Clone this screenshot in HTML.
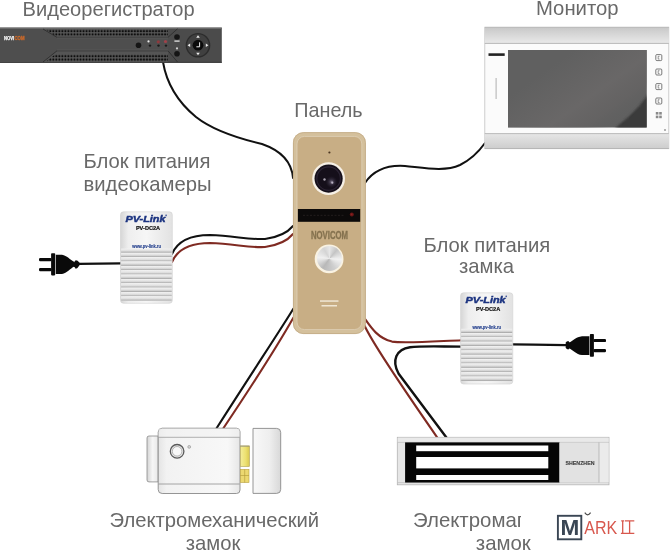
<!DOCTYPE html>
<html><head><meta charset="utf-8">
<style>
html,body{margin:0;padding:0;background:#fff;width:671px;height:550px;overflow:hidden;position:relative;}
svg{display:block;}
text{font-family:"Liberation Sans",sans-serif;}
</style></head><body>
<svg width="671" height="550" viewBox="0 0 671 550" style="position:absolute;left:0;top:0;"><g opacity="0.998">
<defs>
  <pattern id="vent" x="0" y="0" width="3" height="3.3" patternUnits="userSpaceOnUse">
    <rect width="3" height="3.3" fill="#3e3e3e"/>
    <rect x="0.6" y="0.6" width="1.6" height="1.8" fill="#1c1c1c"/>
  </pattern>
  <pattern id="ventdots" x="0.5" y="29.6" width="3.02" height="3.25" patternUnits="userSpaceOnUse">
    <circle cx="1.5" cy="1.6" r="1.1" fill="#0e0e0e"/>
  </pattern>
  <pattern id="ventdots2" x="0.5" y="54.6" width="3.02" height="3.35" patternUnits="userSpaceOnUse">
    <circle cx="1.5" cy="1.6" r="1.1" fill="#0e0e0e"/>
  </pattern>
  <linearGradient id="dvrg" x1="0" y1="0" x2="0" y2="1">
    <stop offset="0" stop-color="#5a5a5a"/>
    <stop offset="0.08" stop-color="#474747"/>
    <stop offset="1" stop-color="#333"/>
  </linearGradient>
  <linearGradient id="bandtop" x1="0" y1="0" x2="0" y2="1">
    <stop offset="0" stop-color="#c8c8c8"/>
    <stop offset="1" stop-color="#e9e9e9"/>
  </linearGradient>
  <linearGradient id="bandbot" x1="0" y1="0" x2="0" y2="1">
    <stop offset="0" stop-color="#e6e6e6"/>
    <stop offset="1" stop-color="#cdcdcd"/>
  </linearGradient>
  <linearGradient id="glare" gradientUnits="userSpaceOnUse" x1="560" y1="60" x2="610" y2="130">
    <stop offset="0" stop-color="#6a6868" stop-opacity="0"/>
    <stop offset="0.55" stop-color="#6a6868" stop-opacity="0.9"/>
    <stop offset="0.8" stop-color="#666464" stop-opacity="0.7"/>
    <stop offset="1" stop-color="#606060" stop-opacity="0"/>
  </linearGradient>
  <linearGradient id="darktri" x1="0" y1="0" x2="1" y2="1">
    <stop offset="0" stop-color="#555"/>
    <stop offset="0.5" stop-color="#3e3e3e"/>
    <stop offset="1" stop-color="#383838"/>
  </linearGradient>
  <linearGradient id="ribg" x1="0" y1="0" x2="0" y2="1">
    <stop offset="0" stop-color="#f2f2f2"/>
    <stop offset="0.5" stop-color="#dedede"/>
    <stop offset="0.72" stop-color="#c4c4c4"/>
    <stop offset="0.85" stop-color="#aeaeae"/>
    <stop offset="1" stop-color="#e6e6e6"/>
  </linearGradient>
  <linearGradient id="extg" x1="0" y1="0" x2="1" y2="0">
    <stop offset="0" stop-color="#d4d4d4"/>
    <stop offset="0.5" stop-color="#f6f6f6"/>
    <stop offset="1" stop-color="#e8e8e8"/>
  </linearGradient>
  <linearGradient id="bodyg" x1="0" y1="0" x2="1" y2="0">
    <stop offset="0" stop-color="#e4e4e4"/>
    <stop offset="0.1" stop-color="#f2f2f2"/>
    <stop offset="0.85" stop-color="#f8f8f8"/>
    <stop offset="1" stop-color="#e6e6e6"/>
  </linearGradient>
  <linearGradient id="strikeg" x1="0" y1="0" x2="1" y2="0">
    <stop offset="0" stop-color="#f8f8f8"/>
    <stop offset="0.6" stop-color="#eeeeee"/>
    <stop offset="1" stop-color="#d8d8d8"/>
  </linearGradient>
  <linearGradient id="latchg" x1="0" y1="0" x2="1" y2="0">
    <stop offset="0" stop-color="#f4ee9a"/>
    <stop offset="0.6" stop-color="#ece070"/>
    <stop offset="1" stop-color="#d8c850"/>
  </linearGradient>
  <radialGradient id="lensglow" cx="0.5" cy="0.5" r="0.5">
    <stop offset="0" stop-color="#8a8296" stop-opacity="0.9"/>
    <stop offset="0.4" stop-color="#4a4256" stop-opacity="0.6"/>
    <stop offset="1" stop-color="#2a2232" stop-opacity="0"/>
  </radialGradient>
  <filter id="blur1" x="-20%" y="-20%" width="140%" height="140%"><feGaussianBlur stdDeviation="1.2"/></filter>
  <clipPath id="scrclip"><rect x="508" y="50" width="138.7" height="77.5"/></clipPath>
  <linearGradient id="bandg" x1="0" y1="0" x2="0" y2="1">
    <stop offset="0" stop-color="#d8d8d8"/>
    <stop offset="0.5" stop-color="#f2f2f2"/>
    <stop offset="1" stop-color="#dcdcdc"/>
  </linearGradient>
  <linearGradient id="screeng" x1="0" y1="0" x2="1" y2="1">
    <stop offset="0" stop-color="#555"/>
    <stop offset="0.6" stop-color="#5e5e5e"/>
    <stop offset="0.75" stop-color="#444"/>
    <stop offset="1" stop-color="#3a3a3a"/>
  </linearGradient>
  <linearGradient id="psug" x1="0" y1="0" x2="1" y2="0">
    <stop offset="0" stop-color="#d6d6d6"/>
    <stop offset="0.15" stop-color="#eeeeee"/>
    <stop offset="0.5" stop-color="#f6f6f6"/>
    <stop offset="1" stop-color="#e2e2e2"/>
  </linearGradient>
  <radialGradient id="lensg" cx="0.5" cy="0.5" r="0.5">
    <stop offset="0" stop-color="#3a3344"/>
    <stop offset="0.7" stop-color="#1f1a26"/>
    <stop offset="1" stop-color="#0e0c12"/>
  </radialGradient>
  <linearGradient id="btng" x1="0" y1="0" x2="1" y2="1">
    <stop offset="0" stop-color="#c8c8c8"/>
    <stop offset="0.3" stop-color="#f4f4f4"/>
    <stop offset="0.5" stop-color="#bdbdbd"/>
    <stop offset="0.7" stop-color="#f0f0f0"/>
    <stop offset="1" stop-color="#b5b5b5"/>
  </linearGradient>
</defs>

<!-- ============ TEXT LABELS ============ -->
<g fill="#696969">
  <text x="22.6" y="15.6" font-size="20.1">Видеорегистратор</text>
  <text x="536" y="14.8" font-size="20.3">Монитор</text>
  <text x="294.3" y="117" font-size="19.8">Панель</text>
  <text x="83.5" y="168" font-size="20.25">Блок питания</text>
  <text x="83.5" y="190.7" font-size="20.25">видеокамеры</text>
  <text x="423.4" y="252" font-size="20.25">Блок питания</text>
  <text x="459" y="273.3" font-size="20.25">замка</text>
  <text x="109.5" y="526.6" font-size="20.25">Электромеханический</text>
  <text x="185.8" y="549.6" font-size="20.25">замок</text>
  <text x="413" y="526.5" font-size="20.4">Электромагнитный</text>
  <text x="475.8" y="550.2" font-size="20.4">замок</text>
</g>

<!-- ============ WIRES ============ -->
<g fill="none" stroke-linecap="round">
  <!-- DVR to panel -->
  <path d="M163,62 C167,86 179,103 196,117 C215,132 245,140 262,144 C285,152 292,165 293,178" stroke="#111" stroke-width="2"/>
  <!-- monitor to panel -->
  <path d="M365,183 C375,168 390,165 405,166 C425,168 445,172 460,165 C472,159 480,150 485,143" stroke="#111" stroke-width="2"/>
  <!-- left PSU to panel -->
  <path d="M172,254 C178,240 192,235 210,235 C235,236 250,240 265,239 C280,237 288,232 293,226" stroke="#111" stroke-width="2"/>
  <path d="M172,262 C178,248 192,243 210,243 C235,244 250,248 265,247 C280,245 288,240 293,234" stroke="#7f2a22" stroke-width="2.1"/>
  <!-- panel to electromech lock -->
  <path d="M293.5,308.5 C281,329 255,368 216.4,428.5" stroke="#111" stroke-width="2.1"/>
  <path d="M293.5,317.5 C283,336 261,372 223.2,428.5" stroke="#7f2a22" stroke-width="2.1"/>
  <!-- panel to right PSU -->
  <path d="M364,317.5 C370,326 377,338 392,341.6 C405,343.6 440,341 462,340.2" stroke="#7f2a22" stroke-width="2.1"/>
  <!-- panel to mag lock -->
  <path d="M364.5,325.5 C371,340 398,381 437.5,437.8" stroke="#7f2a22" stroke-width="2.1"/>
  <!-- right PSU black to mag lock -->
  <path d="M462,346.6 C440,346.6 422,345.8 410,347.2 C396,349 391.5,361 398.5,373.5 L446.6,437.8" stroke="#111" stroke-width="2.4"/>
  <!-- plug cables -->
  <path d="M79,263.8 C95,263.6 110,263.4 121,263.4" stroke="#111" stroke-width="2.2"/>
  <path d="M512.5,344.3 C530,344.5 550,345 566,345.1" stroke="#111" stroke-width="2.2"/>
</g>

<!-- ============ DVR ============ -->
<g>
  <rect x="0" y="27.6" width="221.8" height="35.2" fill="#4b4b4b"/>
  <rect x="0" y="27.6" width="221.8" height="1.4" fill="#6a6a6a"/>
  <rect x="0" y="61.8" width="221.8" height="1" fill="#3a3a3a"/>
  <!-- left face -->
  <polygon points="0,29 43,29 57,37.5 57,50.5 43,62 0,62" fill="#4e4e4e"/>
  <!-- vents -->
  <polygon points="43,29 168,29 168,37.3 57,37.3" fill="#555"/>
  <polygon points="57,50.8 168,50.8 168,62 43,62" fill="#555"/>
  <g fill="url(#ventdots)">
    <polygon points="46,29.5 168,29.5 168,36 55,36"/>
    <polygon points="55,54.6 168,54.6 168,61.3 46,61.3" fill="url(#ventdots2)"/>
  </g>
  <rect x="57" y="37.3" width="111" height="13.5" fill="#4e4e4e"/>
  <path d="M43,29 L57,37.3 L168,37.3 L177.5,28.8" stroke="#2e2e2e" stroke-width="0.9" fill="none"/>
  <path d="M57,37.9 L168,37.9" stroke="#6a6a6a" stroke-width="0.5" fill="none"/>
  <path d="M43,62 L57,50.8 L168,50.8 L177.5,62" stroke="#2e2e2e" stroke-width="0.9" fill="none"/>
  <path d="M57,50.2 L168,50.2" stroke="#6a6a6a" stroke-width="0.5" fill="none"/>
  <!-- logo -->
  <text x="4" y="40.3" font-size="5.4" font-weight="bold" fill="#f4f4f4" stroke="#f4f4f4" stroke-width="0.25" textLength="10.3" lengthAdjust="spacingAndGlyphs">NOVI</text>
  <text x="14.5" y="40.3" font-size="5.2" font-weight="bold" fill="#d06a28" stroke="#d06a28" stroke-width="0.3" textLength="10" lengthAdjust="spacingAndGlyphs">COM</text>
  <!-- buttons -->
  <circle cx="138.5" cy="45.2" r="2.8" fill="#151515"/>
  <circle cx="148.5" cy="41.4" r="1.1" fill="#e8e8e8"/>
  <circle cx="150" cy="45.6" r="1.2" fill="#1a1a1a"/>
  <circle cx="158.3" cy="41.8" r="1.6" fill="#8e3a3e"/>
  <circle cx="158.5" cy="45.6" r="1.2" fill="#1a1a1a"/>
  <circle cx="165.5" cy="41.5" r="1.6" fill="#a0424a"/>
  <circle cx="166" cy="45.6" r="1.2" fill="#1a1a1a"/>
  <circle cx="177" cy="37" r="2.8" fill="#151515"/>
  <rect x="174.4" y="40.4" width="5.2" height="1.4" fill="#d8d8d8"/>
  <circle cx="177" cy="48.4" r="1.1" fill="#cfcfcf"/>
  <circle cx="177" cy="53.7" r="2.8" fill="#151515"/>
  <circle cx="198" cy="45.2" r="12.3" fill="#2c2c2c"/>
  <circle cx="198" cy="45.2" r="10.9" fill="#404040"/>
  <circle cx="198" cy="45.2" r="5.4" fill="#0a0a0a"/>
  <path d="M199.6,42.3 V46.8 H196.4" stroke="#f0f0f0" stroke-width="1" fill="none"/>
  <polygon points="198,35.2 196.2,37.8 199.8,37.8" fill="#eee"/>
  <polygon points="198,55.3 196.2,52.7 199.8,52.7" fill="#eee"/>
  <polygon points="187.6,45.2 190.2,43.4 190.2,47" fill="#eee"/>
  <polygon points="208.4,45.2 205.8,43.4 205.8,47" fill="#eee"/>
</g>

<!-- ============ MONITOR ============ -->
<g>
  <rect x="484.8" y="27.2" width="184" height="121.5" fill="#fbfbfb" stroke="#c4c4c4" stroke-width="0.8"/>
  <rect x="484.8" y="27.2" width="184" height="16.2" fill="url(#bandtop)"/>
  <line x1="484.8" y1="43.4" x2="668.8" y2="43.4" stroke="#a8a8a8" stroke-width="0.8"/>
  <line x1="484.8" y1="27.4" x2="668.8" y2="27.4" stroke="#b0b0b0" stroke-width="0.6"/>
  <rect x="484.8" y="133.6" width="184" height="15" fill="url(#bandbot)"/>
  <line x1="484.8" y1="133.6" x2="668.8" y2="133.6" stroke="#b4b4b4" stroke-width="0.9"/>
  <line x1="484.8" y1="148.5" x2="668.8" y2="148.5" stroke="#aaa" stroke-width="0.7"/>
  <rect x="508" y="50" width="138.7" height="77.5" fill="#606060"/>
  <rect x="508" y="50" width="138.7" height="77.5" fill="url(#glare)"/>
  <g clip-path="url(#scrclip)"><path d="M648,94 L648,129 L614,129 C624,121 634,112 640,105 C643,101 646,97 648,94 Z" fill="#3b3b3b" filter="url(#blur1)"/></g>
  <rect x="488.5" y="53.3" width="16.2" height="2.6" fill="#222"/>
  <rect x="495.6" y="78" width="1" height="21" fill="#b0b0b0"/>
  <g fill="none" stroke="#5a5a5a" stroke-width="0.8">
    <rect x="655.8" y="54.6" width="6" height="6" rx="1"/>
    <rect x="655.8" y="69" width="6" height="6" rx="1"/>
    <rect x="655.8" y="83.6" width="6" height="6" rx="1"/>
    <rect x="655.8" y="98" width="6" height="6" rx="1"/>
  </g>
  <g fill="none" stroke="#555" stroke-width="0.6">
    <path d="M659.5,56.3 h-1.3 v2.8 h1.3 M659.5,70.7 h-1.3 v2.8 h1.3 M659.5,85.3 h-1.3 v2.8 h1.3 M659.5,99.7 h-1.3 v2.8 h1.3"/>
  </g>
  <g fill="#8a8a8a">
    <rect x="655.8" y="112" width="2.6" height="2.6"/><rect x="659.2" y="112" width="2.6" height="2.6"/>
    <rect x="655.8" y="115.6" width="2.6" height="2.6"/><rect x="659.2" y="115.6" width="2.6" height="2.6"/>
  </g>
  <circle cx="665" cy="130" r="0.7" fill="#333"/>
</g>

<!-- ============ PANEL ============ -->
<g>
  <rect x="293" y="132.2" width="72.8" height="201.8" rx="10.5" fill="#d4c09c"/>
  <rect x="293.4" y="132.6" width="72" height="201" rx="10" fill="none" stroke="#c2aa84" stroke-width="0.8"/>
  <rect x="297" y="136.4" width="64.8" height="193.2" rx="7.5" fill="#c8ae85" stroke="#dccdb2" stroke-width="0.9"/>
  <circle cx="329.4" cy="152.5" r="1.1" fill="#4a3520"/>
  <circle cx="328.6" cy="178.6" r="16.4" fill="#f6f0e6"/>
  <circle cx="328.6" cy="178.6" r="14.1" fill="#150f1a"/>
  <circle cx="328.6" cy="178.6" r="11.8" fill="none" stroke="#2c2434" stroke-width="1.2"/>
  <circle cx="324.5" cy="179.5" r="1.2" fill="#aaa3b0"/>
  <circle cx="331.5" cy="182" r="6" fill="url(#lensglow)"/>
  <circle cx="332.3" cy="182.7" r="1.1" fill="#b9b2c2"/>
  <rect x="297.9" y="209" width="62.3" height="12.8" fill="#0c0a0a"/>
  <line x1="303" y1="215.3" x2="345" y2="215.3" stroke="#3a3030" stroke-width="0.5" stroke-dasharray="2,1.5"/>
  <circle cx="351.8" cy="214.6" r="2" fill="#6a1616"/>
  <circle cx="351.6" cy="214.3" r="0.9" fill="#8a2020"/>
  <text x="311" y="238.5" font-size="10.2" font-weight="bold" fill="#85724f" stroke="#85724f" stroke-width="0.35" textLength="37" lengthAdjust="spacingAndGlyphs">NOVICOM</text>
  <circle cx="329.1" cy="258.9" r="14.4" fill="#f9f2e2"/>
  <rect x="320" y="300.3" width="18.5" height="1.5" fill="#efe6d4"/>
  <rect x="321.5" y="305" width="15.5" height="1.5" fill="#efe6d4"/>
</g>

<!-- ============ LEFT PSU ============ -->
<g>
  <rect x="120.5" y="211.8" width="51.8" height="91.5" rx="3" fill="url(#psug)" stroke="#d0d0d0" stroke-width="0.6"/>
  <g>
    <rect x="121.1" y="248.60" width="50.6" height="4.36" fill="url(#ribg)"/>
    <rect x="121.1" y="252.96" width="50.6" height="4.36" fill="url(#ribg)"/>
    <rect x="121.1" y="257.32" width="50.6" height="4.36" fill="url(#ribg)"/>
    <rect x="121.1" y="261.68" width="50.6" height="4.36" fill="url(#ribg)"/>
    <rect x="121.1" y="266.04" width="50.6" height="4.36" fill="url(#ribg)"/>
    <rect x="121.1" y="270.40" width="50.6" height="4.36" fill="url(#ribg)"/>
    <rect x="121.1" y="274.76" width="50.6" height="4.36" fill="url(#ribg)"/>
    <rect x="121.1" y="279.12" width="50.6" height="4.36" fill="url(#ribg)"/>
    <rect x="121.1" y="283.48" width="50.6" height="4.36" fill="url(#ribg)"/>
    <rect x="121.1" y="287.84" width="50.6" height="4.36" fill="url(#ribg)"/>
    <rect x="121.1" y="292.20" width="50.6" height="4.36" fill="url(#ribg)"/>
    <rect x="121.1" y="296.56" width="50.6" height="4.36" fill="url(#ribg)"/>
  </g>
  <text x="125.5" y="221.6" font-size="9.3" font-weight="bold" font-style="italic" fill="#1c3480" stroke="#1c3480" stroke-width="0.45" textLength="40" lengthAdjust="spacingAndGlyphs">PV-Link</text>
  <circle cx="166.1" cy="215.2" r="0.8" fill="#1f3b8c"/>
  <text x="135.9" y="230.1" font-size="5.6" font-weight="bold" fill="#111" stroke="#111" stroke-width="0.2" textLength="24.2" lengthAdjust="spacingAndGlyphs">PV-DC2A</text>
  <text x="132.3" y="247.8" font-size="4.5" font-weight="bold" fill="#2a4590" stroke="#2a4590" stroke-width="0.15" textLength="28.6" lengthAdjust="spacingAndGlyphs">www.pv-link.ru</text>
</g>

<!-- ============ RIGHT PSU ============ -->
<g>
  <rect x="460.6" y="292.8" width="52.2" height="91.2" rx="3" fill="url(#psug)" stroke="#d0d0d0" stroke-width="0.6"/>
  <g>
    <rect x="461.2" y="328.80" width="51.0" height="4.36" fill="url(#ribg)"/>
    <rect x="461.2" y="333.16" width="51.0" height="4.36" fill="url(#ribg)"/>
    <rect x="461.2" y="337.52" width="51.0" height="4.36" fill="url(#ribg)"/>
    <rect x="461.2" y="341.88" width="51.0" height="4.36" fill="url(#ribg)"/>
    <rect x="461.2" y="346.24" width="51.0" height="4.36" fill="url(#ribg)"/>
    <rect x="461.2" y="350.60" width="51.0" height="4.36" fill="url(#ribg)"/>
    <rect x="461.2" y="354.96" width="51.0" height="4.36" fill="url(#ribg)"/>
    <rect x="461.2" y="359.32" width="51.0" height="4.36" fill="url(#ribg)"/>
    <rect x="461.2" y="363.68" width="51.0" height="4.36" fill="url(#ribg)"/>
    <rect x="461.2" y="368.04" width="51.0" height="4.36" fill="url(#ribg)"/>
    <rect x="461.2" y="372.40" width="51.0" height="4.36" fill="url(#ribg)"/>
    <rect x="461.2" y="376.76" width="51.0" height="4.36" fill="url(#ribg)"/>
  </g>
  <text x="465.6" y="302.6" font-size="9.3" font-weight="bold" font-style="italic" fill="#1c3480" stroke="#1c3480" stroke-width="0.45" textLength="40" lengthAdjust="spacingAndGlyphs">PV-Link</text>
  <circle cx="506.2" cy="296.2" r="0.8" fill="#1f3b8c"/>
  <text x="476.0" y="311.1" font-size="5.6" font-weight="bold" fill="#111" stroke="#111" stroke-width="0.2" textLength="24.2" lengthAdjust="spacingAndGlyphs">PV-DC2A</text>
  <text x="472.4" y="328.8" font-size="4.5" font-weight="bold" fill="#2a4590" stroke="#2a4590" stroke-width="0.15" textLength="28.6" lengthAdjust="spacingAndGlyphs">www.pv-link.ru</text>
</g>

<!-- ============ PLUGS ============ -->
<g fill="#0a0a0a">
  <!-- left plug -->
  <rect x="39" y="258" width="12.5" height="3.2" rx="1.2"/>
  <rect x="39" y="268" width="12.5" height="3.3" rx="1.2"/>
  <rect x="51.1" y="253.2" width="4.1" height="22.2" rx="0.8"/>
  <path d="M55.8,254.8 L62,254.8 C67,255.5 70,260 74.4,262 L74.4,266.5 C70,268.5 67,273.3 62,274.1 L55.8,274.1 Z"/>
  <path d="M74,262.3 L75.7,260.2 Q77.5,260 79.3,262.6 L79.3,265.5 Q77.5,268.8 75.7,268.7 L74,266.2 Z"/>
  <!-- right plug -->
  <rect x="593.5" y="338.9" width="12.5" height="3.2" rx="1.2"/>
  <rect x="593.5" y="349.1" width="12.5" height="3.2" rx="1.2"/>
  <rect x="589.9" y="334" width="4" height="22.8" rx="0.8"/>
  <path d="M589.4,336.2 L582,336.2 C576,336.8 573,341 569,342.6 L569,348.2 C573,349.8 576,354.4 582,355 L589.4,355 Z"/>
  <path d="M569.5,342.4 L568.4,341.1 Q566.5,341.2 565.7,342.6 L565.7,347.8 Q566.5,349.5 568.4,349.6 L569.5,348.3 Z"/>
</g>

<!-- ============ ELECTROMECHANICAL LOCK ============ -->
<g>
  <path d="M158.2,436 L149,436 Q147,436 147,438 L147,480 Q147,481.9 149,481.9 L158.2,481.9 Z" fill="url(#extg)" stroke="#8a8a8a" stroke-width="0.8"/>
  <path d="M162.2,428.2 L236.5,428.2 Q240,428.2 240,431.7 L240,490 Q240,493.5 236.5,493.5 L162.2,493.5 Q158.2,493.5 158.2,489.5 L158.2,432.2 Q158.2,428.2 162.2,428.2 Z" fill="url(#bodyg)" stroke="#8a8a8a" stroke-width="0.9"/>
  <line x1="158.6" y1="437.2" x2="239.6" y2="437.2" stroke="#909090" stroke-width="0.8"/>
  <line x1="158.6" y1="484" x2="239.6" y2="484" stroke="#909090" stroke-width="0.8"/>
  <rect x="158.6" y="428.6" width="81" height="8.2" fill="#f2f2f2" opacity="0.6"/>
  <circle cx="177.1" cy="451.3" r="6.8" fill="#e8e8e8" stroke="#5a5a5a" stroke-width="1.3"/>
  <circle cx="177.1" cy="451.3" r="4.8" fill="#f8f8f8" stroke="#9a9a9a" stroke-width="0.7"/>
  <circle cx="189.2" cy="446.9" r="1.4" fill="#d8d8d8" stroke="#8a8a8a" stroke-width="0.6"/>
  <rect x="240.3" y="445.9" width="9.1" height="20.6" fill="url(#latchg)" stroke="#b0a050" stroke-width="0.6"/>
  <line x1="240.3" y1="446.2" x2="249.4" y2="446.2" stroke="#888" stroke-width="0.7"/>
  <rect x="240.3" y="469.4" width="8.7" height="13.1" fill="#ecd870" stroke="#b8a040" stroke-width="0.6"/>
  <line x1="244.7" y1="469.4" x2="244.7" y2="482.5" stroke="#b09838" stroke-width="0.6"/>
  <line x1="240.3" y1="475.5" x2="249" y2="475.5" stroke="#b09838" stroke-width="0.6"/>
  <path d="M253,428.4 L276.7,428.4 Q280.7,428.4 280.7,432.4 L280.7,489.4 Q280.7,493.4 276.7,493.4 L253,493.4 Z" fill="url(#strikeg)" stroke="#8a8a8a" stroke-width="0.9"/>
</g>

<!-- ============ MAGNETIC LOCK ============ -->
<g>
  <rect x="397.3" y="437.3" width="211.7" height="47.5" fill="#e6e6e6" stroke="#b4b4b4" stroke-width="0.8"/>
  <rect x="397.7" y="437.7" width="210.9" height="4.7" fill="#e9e9e9"/>
  <line x1="397.3" y1="442.4" x2="609" y2="442.4" stroke="#bdbdbd" stroke-width="0.7"/>
  <line x1="397.3" y1="482.6" x2="609" y2="482.6" stroke="#bdbdbd" stroke-width="0.7"/>
  <rect x="405.1" y="442.4" width="154.4" height="40.1" fill="#050505"/>
  <rect x="416.2" y="445.5" width="132.1" height="5.7" fill="#fff"/>
  <rect x="416.2" y="457" width="132.1" height="11.4" fill="#fff"/>
  <rect x="416.2" y="475" width="132.1" height="5" fill="#fff"/>
  <rect x="559.5" y="442.8" width="39.5" height="39.6" fill="#e2e2e2"/>
  <rect x="599" y="442.8" width="9.6" height="39.6" fill="#ebebeb"/>
  <line x1="599" y1="442.4" x2="599" y2="482.6" stroke="#a8a8a8" stroke-width="0.7"/>
  <text x="565.5" y="465.4" font-size="6.2" font-weight="bold" fill="#444" stroke="#444" stroke-width="0.15" textLength="29" lengthAdjust="spacingAndGlyphs">SHENZHEN</text>
</g>

<!-- ============ MARKIT LOGO ============ -->
<g>
  <polygon points="521,504 660,504 660,550 531,550 531,531 521,531" fill="#fff"/>
  <path d="M584.8,512.6 Q587.6,517 590.6,512.6" stroke="#4a4a4a" stroke-width="1.2" fill="none"/>
  <rect x="557.9" y="515.8" width="23.4" height="23.5" fill="#fff" stroke="#3a4654" stroke-width="1.9"/>
  <text x="560.4" y="534.7" font-size="21.3" font-weight="bold" fill="#3a4654" textLength="18.8" lengthAdjust="spacingAndGlyphs">M</text>
  <text x="584.3" y="533.5" font-size="19.2" fill="#d8584e" textLength="33" lengthAdjust="spacingAndGlyphs">ARK</text>
  <g stroke="#d8584e" stroke-width="1.3" fill="none">
    <path d="M621.2,520.9 H624.2 M622.7,520.9 V533 M625,520.9 H634.3 M629.6,520.9 V533 M620.9,533.4 H634.3"/>
  </g>
</g>
</g></svg>
<div style="position:absolute;left:316.5px;top:246.3px;width:25.2px;height:25.2px;border-radius:50%;background:conic-gradient(from 0deg,#e6e6e6 0deg,#c4c4c4 40deg,#f2f2f2 95deg,#d0d0d0 150deg,#b8b8b8 215deg,#f0f0f0 275deg,#d4d4d4 330deg,#e6e6e6 360deg);"></div>
</body></html>
